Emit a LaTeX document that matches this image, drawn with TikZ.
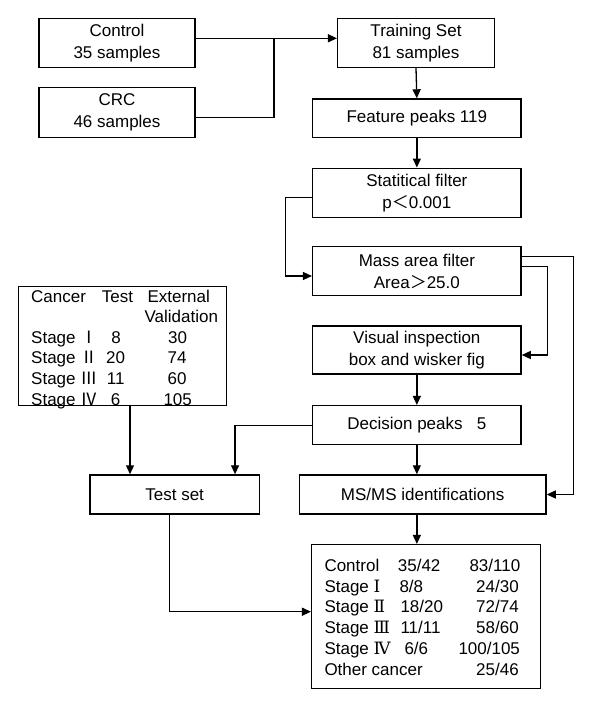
\documentclass[tikz,border=0pt]{standalone}
\usepackage{fontspec}
\setmainfont{Liberation Sans}
\newfontfamily\cjk{Noto Sans CJK SC}
\newfontfamily\rser{DejaVu Serif}
\usetikzlibrary{arrows.meta,calc}
\tikzset{
 box/.style={draw, line width=1.5pt, inner sep=0pt, align=center, font=\fontsize{17}{21.7}\selectfont},
 conn/.style={line width=1.3pt},
 arr/.style={conn, -{Triangle[length=9pt,width=8pt]}},
 txtl/.style={inner sep=0pt, anchor=base west, font=\fontsize{17}{20}\selectfont},
 txtc/.style={inner sep=0pt, anchor=base, font=\fontsize{17}{20}\selectfont},
}
\begin{document}
\begin{tikzpicture}[x=1pt,y=-1pt]
\fill[white] (0,0) rectangle (592,708);
\useasboundingbox (0,0) rectangle (592,708);

% boxes
\node[box, minimum width=156pt, minimum height=49pt] (ctrl) at (117,42.8) {Control\\35 samples};
\node[box, minimum width=156pt, minimum height=49.6pt] (crc) at (117,112.5) {CRC\\46 samples};
\node[box, minimum width=156.6pt, minimum height=49pt] (train) at (416,42.8) {Training Set\\81 samples};
\node[box, minimum width=208.3pt, minimum height=38.3pt] (feat) at (416.85,118.2) {Feature peaks 119};
\node[box, minimum width=208.3pt, minimum height=49pt] (stat) at (416.85,192.8) {Statitical filter\\p{\cjk ＜}0.001};
\node[box, minimum width=208.3pt, minimum height=49pt] (mass) at (416.85,271.2) {Mass area filter\\Area{\cjk ＞}25.0};
\node[box, minimum width=208.3pt, minimum height=48pt] (vis) at (416.85,350) {Visual inspection\\box and wisker fig};
\node[box, minimum width=208.3pt, minimum height=39pt] (dec) at (416.85,425.2) {Decision peaks\ \ \ 5};
\node[box, minimum width=246.7pt, minimum height=39pt] (ms) at (422.65,494.5) {MS/MS identifications};
\node[box, minimum width=169.3pt, minimum height=39pt] (test) at (174.65,494.5) {Test set};
\node[box, minimum width=208.4pt, minimum height=119pt] (table) at (122.5,346.2) {};
\node[box, minimum width=228.6pt, minimum height=143.6pt] (result) at (426,616.5) {};

% table text
\node[txtl] (t0a) at (31,302) {Cancer};
\node[txtc] (t0b) at (117.5,302) {Test};
\node[txtc] (t0c) at (178.7,302) {External};
\node[txtc] (t1c) at (181.3,322.6) {Validation};
\node[txtl] (t2a) at (31,343.2) {Stage {\cjk Ⅰ}};
\node[txtc] (t2b) at (116,343.2) {8};
\node[txtc] (t2c) at (177.7,343.2) {30};
\node[txtl] (t3a) at (31,363.8) {Stage {\cjk Ⅱ}};
\node[txtc] (t3b) at (115.5,363.8) {20};
\node[txtc] (t3c) at (177,363.8) {74};
\node[txtl] (t4a) at (31,384.4) {Stage {\cjk Ⅲ}};
\node[txtc] (t4b) at (115.7,384.4) {11};
\node[txtc] (t4c) at (177,384.4) {60};
\node[txtl] (t5a) at (31,405) {Stage {\cjk Ⅳ}};
\node[txtc] (t5b) at (115.7,405) {6};
\node[txtc] (t5c) at (177.7,405) {105};

% result text
\node[txtl] (r0a) at (324.3,571.5) {Control};
\node[txtl] (r0b) at (397.7,571.5) {35/42};
\node[txtl] (r0c) at (469.3,571.5) {83/110};
\node[txtl] (r1a) at (324.3,592.2) {Stage {\rser Ⅰ}};
\node[txtl] (r1b) at (399.3,592.2) {8/8};
\node[txtl] (r1c) at (476,592.2) {24/30};
\node[txtl] (r2a) at (324.3,612.9) {Stage {\rser Ⅱ}};
\node[txtl] (r2b) at (400.3,612.9) {18/20};
\node[txtl] (r2c) at (476,612.9) {72/74};
\node[txtl] (r3a) at (324.3,633.6) {Stage {\rser Ⅲ}};
\node[txtl] (r3b) at (400.3,633.6) {11/11};
\node[txtl] (r3c) at (476,633.6) {58/60};
\node[txtl] (r4a) at (324.3,654.3) {Stage {\rser Ⅳ}};
\node[txtl] (r4b) at (404.3,654.3) {6/6};
\node[txtl] (r4c) at (458.3,654.3) {100/105};
\node[txtl] (r5a) at (324.3,675) {Other cancer};
\node[txtl] (r5c) at (476,675) {25/46};

% connectors
\coordinate (j) at (274,38.3);
\draw[arr] (ctrl.east |- j) -- (train.west |- j);
\coordinate (crcout) at ([yshift=-4.8pt]crc.east);
\draw[conn] (crcout) -| (j);
\draw[arr] (train.south) -- (feat.north);
\draw[arr] (feat.south) -- (stat.north);
\coordinate (so) at ([yshift=-4.9pt]stat.west);
\coordinate (mi) at ([yshift=-4.8pt]mass.west);
\draw[arr] (so) -- ++(-26.7,0) |- (mi);
\coordinate (mo1) at ([yshift=4.5pt]mass.east);
\coordinate (vi) at ([yshift=-5pt]vis.east);
\draw[arr] (mo1) -- ++(25.7,0) |- (vi);
\coordinate (mo2) at ([yshift=14.5pt]mass.east);
\draw[arr] (mo2) -- ++(51.7,0) |- (ms.east);
\draw[arr] (vis.south) -- (dec.north);
\draw[arr] (dec.south) -- (dec.south |- ms.north);
\draw[arr] (dec.south |- ms.south) -- (dec.south |- result.north);
\coordinate (ti) at ([xshift=-25pt]test.north east);
\draw[arr] (dec.west) -| (ti);
\coordinate (tb) at ([xshift=7.5pt]table.south);
\draw[arr] (tb) -- (tb |- test.north);
\coordinate (to) at ([xshift=-5.3pt]test.south);
\coordinate (ri) at ([yshift=4.8pt]result.west);
\draw[arr] (to) |- (ri);
\end{tikzpicture}
\end{document}
